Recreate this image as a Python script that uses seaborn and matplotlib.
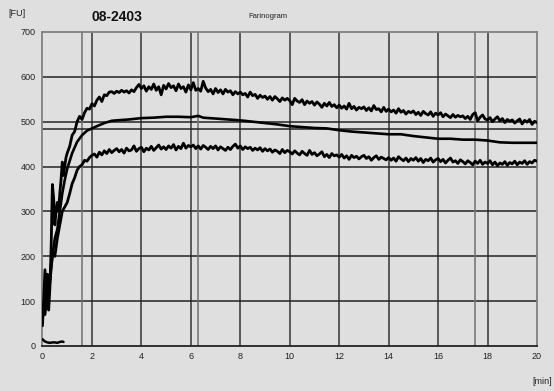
import numpy as np
import pandas as pd
import matplotlib
matplotlib.use("Agg")
import matplotlib.pyplot as plt
import seaborn as sns

# ---------------- data ----------------
# early phase, 0.05-min steps (0 .. 0.95)
t_early = [0.00, 0.05, 0.10, 0.15, 0.20, 0.25, 0.30, 0.35, 0.40, 0.45,
           0.50, 0.55, 0.60, 0.65, 0.70, 0.75, 0.80, 0.85, 0.90, 0.95]
upper_early = [45, 110, 170, 90, 160, 80, 130, 220, 360, 330,
               270, 300, 320, 300, 340, 370, 410, 380, 400, 420]
lower_early = [90, 80, 70, 95, 90, 120, 150, 180, 200, 205,
               200, 220, 240, 255, 270, 285, 300, 305, 310, 315]

# 1.0 .. 20.0 min in 0.1-min steps
upper_main = [
    430, 445, 470, 478, 500, 512, 505, 520, 530, 528,
    540, 535, 548, 555, 545, 560, 558, 566, 567, 563,
    568, 565, 570, 566, 569, 564, 571, 567, 576, 583,
    574, 580, 568, 578, 572, 584, 570, 578, 560, 581,
    573, 585, 576, 580, 569, 584, 574, 578, 566, 582,
    571, 587, 570, 574, 568, 590, 575, 567, 572, 562,
    574, 565, 571, 562, 572, 566, 569, 560, 567, 562,
    566, 560, 563, 555, 566, 558, 561, 552, 559, 554,
    557, 550, 556, 548, 556, 551, 545, 553, 548, 552,
    547, 538, 552, 546, 543, 549, 538, 546, 541, 545,
    537, 544, 539, 532, 541, 535, 543, 534, 538, 531,
    537, 530, 535, 528, 541, 529, 534, 526, 532, 529,
    533, 525, 531, 524, 536, 527, 529, 522, 532, 523,
    528, 522, 526, 519, 529, 521, 525, 517, 523, 520,
    524, 516, 521, 514, 523, 518, 515, 522, 512, 519,
    515, 520, 511, 517, 513, 509, 516, 510, 514, 511,
    513, 507, 512, 505, 516, 520, 502, 510, 515, 506,
    504, 509, 500, 506, 511, 502, 507, 498, 505, 501,
    504, 497, 502, 506, 495, 503, 499, 505, 494, 501,
    498]
lower_main = [
    320, 340, 362, 375, 392, 400, 404, 414, 412, 420,
    425, 428, 421, 432, 426, 435, 429, 438, 431, 436,
    440, 433, 438, 430, 441, 435, 437, 446, 434, 440,
    443, 433, 441, 437, 445, 436, 442, 448, 439, 444,
    438, 446, 441, 449, 437, 445, 440, 452, 441, 447,
    444, 448, 440, 446, 439, 447, 443, 438, 445, 440,
    446, 437, 444, 440, 436, 443, 438, 445, 450, 441,
    446, 438, 444, 440, 443, 436, 441, 437, 442, 434,
    440, 435, 439, 432, 437, 434, 429, 438, 431, 436,
    433, 428, 435, 430, 426, 434, 429, 425, 436, 427,
    431, 424, 428, 433, 422, 427, 420, 429, 424, 426,
    421, 427, 419, 424, 416, 425, 420, 423, 417, 422,
    425, 418, 422, 414, 420, 424, 416, 421, 418, 415,
    420, 414, 419, 412, 422, 417, 413, 419, 411, 418,
    414, 420, 412, 418, 409, 416, 413, 419, 410, 415,
    418, 411, 416, 408, 414, 419, 410, 413, 407, 415,
    411, 406, 413, 409, 404, 412, 407, 414, 405, 410,
    407, 413, 404, 410, 402, 408, 405, 411, 403, 409,
    406, 412, 404, 410, 407, 413, 405, 411, 408, 414,
    412]

# smooth middle curve
t_mid = [0.0, 0.1, 0.2, 0.3, 0.4, 0.5, 0.6, 0.7, 0.8, 0.9, 1.0, 1.2, 1.4, 1.6,
         1.8, 2.0, 2.2, 2.5, 2.8, 3.0, 3.5, 4.0, 4.5, 5.0, 5.5, 6.0, 6.3, 6.5,
         7.0, 7.5, 8.0, 8.5, 9.0, 9.5, 10.0, 10.5, 11.0, 11.5, 12.0, 12.5,
         13.0, 13.5, 14.0, 14.5, 15.0, 15.5, 16.0, 16.5, 17.0, 17.5, 18.0,
         18.5, 19.0, 19.5, 20.0]
mid_vals = [60, 100, 120, 140, 200, 240, 260, 300, 340, 370, 395, 430, 455,
            470, 480, 485, 490, 497, 502, 503, 505, 508, 509, 511, 511, 510,
            513, 509, 507, 505, 503, 500, 497, 494, 490, 488, 486, 485, 481,
            478, 476, 474, 472, 472, 468, 465, 462, 462, 460, 460, 458, 454,
            453, 453, 453]

# start-up trace near zero
t_base = [0.0, 0.1, 0.2, 0.3, 0.4, 0.5, 0.6, 0.7, 0.8, 0.85]
base_vals = [15, 10, 8, 7, 8, 8, 7, 9, 10, 9]

x_ticks = [0, 2, 4, 6, 8, 10, 12, 14, 16, 18, 20]
y_ticks = [0, 100, 200, 300, 400, 500, 600, 700]
extra_v = [1.6, 6.3, 17.5]
extra_h = [483]

# ---------------- build frames ----------------
t_main = [round(1.0 + 0.1 * i, 2) for i in range(len(upper_main))]
df_up = pd.DataFrame({"t": t_early + t_main, "FU": upper_early + upper_main})
df_lo = pd.DataFrame({"t": t_early + t_main, "FU": lower_early + lower_main})
df_mid = pd.DataFrame({"t": t_mid, "FU": mid_vals})
df_base = pd.DataFrame({"t": t_base, "FU": base_vals})

# ---------------- figure ----------------
sns.set_style("white")
plt.rcParams["font.family"] = ["Liberation Sans", "DejaVu Sans"]
bg = "#dfdfdf"
fig = plt.figure(figsize=(5.54, 3.91), dpi=100, facecolor=bg)
ax = fig.add_axes([0.0767, 0.1151, 0.8926, 0.8031], facecolor=bg)

ax.set_xlim(0, 20)
ax.set_ylim(0, 700)

for v in x_ticks[1:-1]:
    ax.axvline(v, color="#333333", lw=1.1, zorder=1)
for h in y_ticks[1:-1]:
    ax.axhline(h, color="#222222", lw=1.1, zorder=1)
for v in extra_v:
    ax.axvline(v, color="#707070", lw=1.1, zorder=1)
for h in extra_h:
    ax.axhline(h, color="#222222", lw=1.1, zorder=1)

for d, lw in ((df_up, 2.0), (df_lo, 2.0), (df_mid, 1.9), (df_base, 1.8)):
    sns.lineplot(data=d, x="t", y="FU", ax=ax, color="black", lw=lw,
                 estimator=None, sort=False, zorder=3)

ax.set_xticks(x_ticks)
ax.set_yticks(y_ticks)
ax.set_xticklabels([str(v) for v in x_ticks])
ax.set_yticklabels([str(v) for v in y_ticks])
ax.tick_params(axis="both", length=0, labelsize=6.5, colors="#222222")
ax.tick_params(axis="x", pad=4)
ax.tick_params(axis="y", pad=5)
ax.set_xlabel("")
ax.set_ylabel("")

for side in ("left", "right", "top"):
    ax.spines[side].set_color("#808080")
    ax.spines[side].set_linewidth(1.3)
ax.spines["bottom"].set_color("#222222")
ax.spines["bottom"].set_linewidth(1.3)

fig.text(8 / 554, 1 - 14 / 391, "[FU]", fontsize=6.5, color="#222222",
         ha="left", va="center")
fig.text(92 / 554, 1 - 17 / 391, "08-2403", fontsize=10, fontweight="bold",
         color="#111111", ha="left", va="center")
fig.text(248 / 554, 1 - 17 / 391, "Farinogram", fontsize=5.5,
         color="#222222", ha="left", va="center")
fig.text(552 / 554, 1 - 381 / 391, "[min]", fontsize=6.5, color="#222222",
         ha="right", va="center")

fig.savefig("out.png", dpi=100, facecolor=bg)
